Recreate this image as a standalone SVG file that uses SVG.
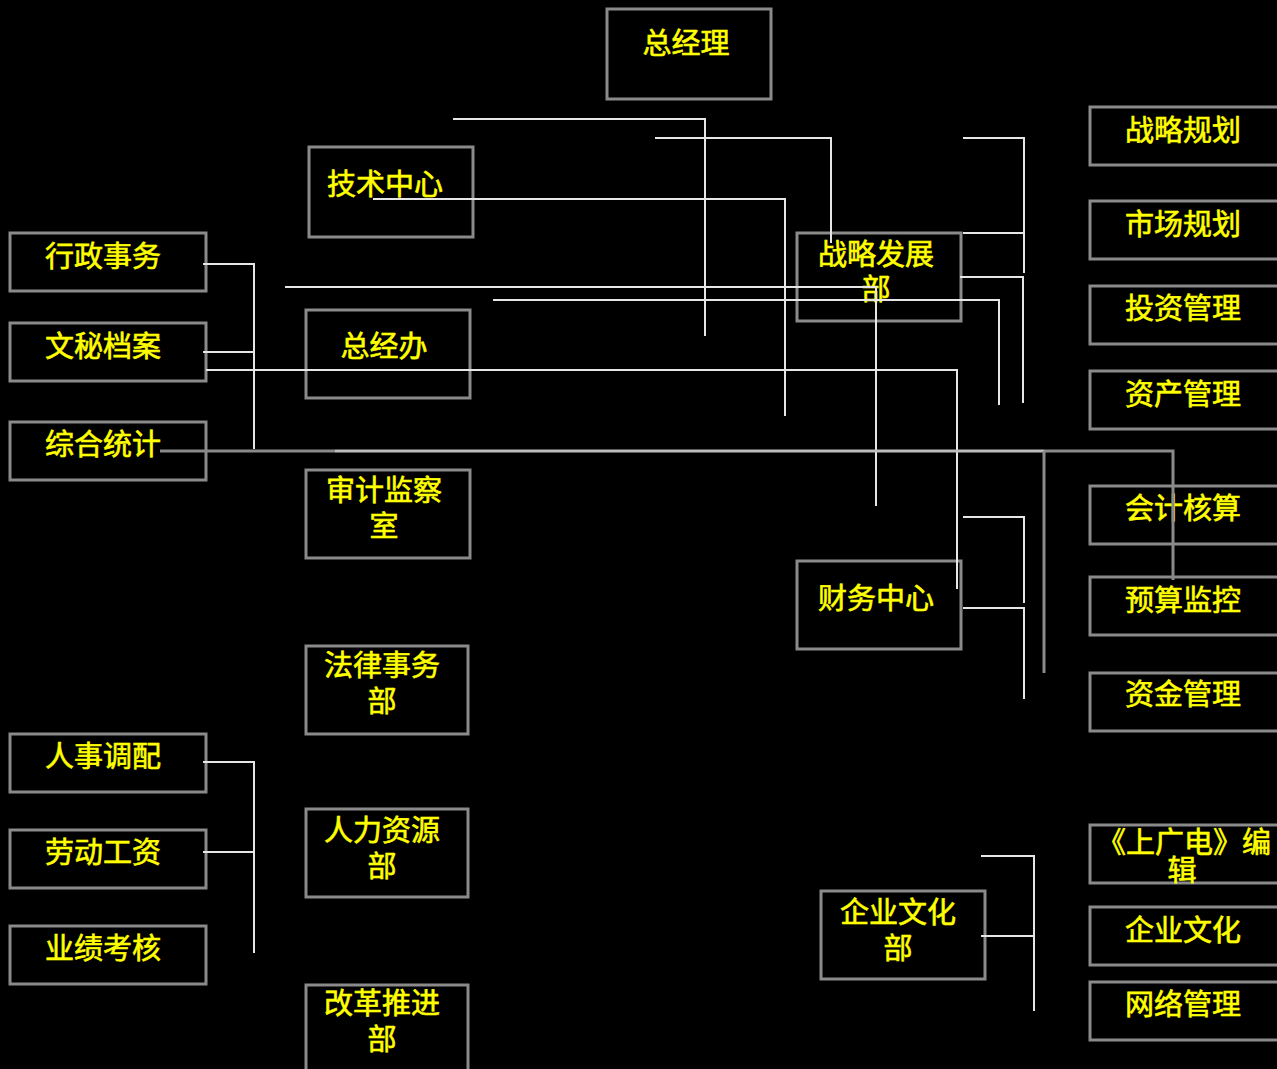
<svg xmlns="http://www.w3.org/2000/svg" width="1277" height="1069" viewBox="0 0 1277 1069">
<style>
.bx{fill:#000;stroke:#8a8a8a;stroke-width:3}
.t{font-family:"Noto Sans CJK SC","Noto Sans CJK JP",sans-serif;font-size:29px;fill:#ffff00;stroke:#ffff00;stroke-width:0.6;text-anchor:middle}
.ln{fill:none;stroke:#e6e6e6;stroke-width:2}
.lg{fill:none;stroke:#8a8a8a;stroke-width:3}
.ll{fill:none;stroke:#bdbdbd;stroke-width:3}
</style>
<rect width="1277" height="1069" fill="#000"/>
<g id="n-zjl"><rect class="bx" x="607" y="9" width="164" height="90"/><text class="t" x="686" y="54">总经理</text></g>
<g id="n-jszx"><rect class="bx" x="309" y="147" width="164" height="90"/><text class="t" x="385" y="195">技术中心</text></g>
<g id="n-zjb"><rect class="bx" x="306" y="310" width="164" height="88"/><text class="t" x="384" y="357">总经办</text></g>
<g id="n-sjjcs"><rect class="bx" x="306" y="470" width="164" height="88"/><text class="t" x="384" y="501">审计监察</text><text class="t" x="384" y="537">室</text></g>
<g id="n-flswb"><rect class="bx" x="306" y="646" width="162" height="88"/><text class="t" x="382" y="676">法律事务</text><text class="t" x="382" y="712">部</text></g>
<g id="n-rlzyb"><rect class="bx" x="306" y="809" width="162" height="88"/><text class="t" x="382" y="841">人力资源</text><text class="t" x="382" y="877">部</text></g>
<g id="n-ggtjb"><rect class="bx" x="306" y="985" width="162" height="100"/><text class="t" x="382" y="1014">改革推进</text><text class="t" x="382" y="1050">部</text></g>
<g id="n-xzsw"><rect class="bx" x="10" y="233" width="196" height="58"/><text class="t" x="103" y="267">行政事务</text></g>
<g id="n-wmda"><rect class="bx" x="10" y="323" width="196" height="58"/><text class="t" x="103" y="357">文秘档案</text></g>
<g id="n-zhtj"><rect class="bx" x="10" y="422" width="196" height="58"/><text class="t" x="103" y="455">综合统计</text></g>
<g id="n-rsdp"><rect class="bx" x="10" y="734" width="196" height="58"/><text class="t" x="103" y="767">人事调配</text></g>
<g id="n-ldgz"><rect class="bx" x="10" y="830" width="196" height="58"/><text class="t" x="103" y="863">劳动工资</text></g>
<g id="n-yjkh"><rect class="bx" x="10" y="926" width="196" height="58"/><text class="t" x="103" y="959">业绩考核</text></g>
<g id="n-zlfzb"><rect class="bx" x="797" y="233" width="164" height="88"/><text class="t" x="876" y="265">战略发展</text><text class="t" x="876" y="300">部</text></g>
<g id="n-cwzx"><rect class="bx" x="797" y="561" width="164" height="88"/><text class="t" x="876" y="609">财务中心</text></g>
<g id="n-qywhb"><rect class="bx" x="821" y="891" width="164" height="88"/><text class="t" x="898" y="923">企业文化</text><text class="t" x="898" y="959">部</text></g>
<g id="n-zlgh"><rect class="bx" x="1090" y="107" width="200" height="58"/><text class="t" x="1183" y="141">战略规划</text></g>
<g id="n-scgh"><rect class="bx" x="1090" y="201" width="200" height="58"/><text class="t" x="1183" y="235">市场规划</text></g>
<g id="n-tzgl"><rect class="bx" x="1090" y="286" width="200" height="58"/><text class="t" x="1183" y="319">投资管理</text></g>
<g id="n-zcgl"><rect class="bx" x="1090" y="371" width="200" height="58"/><text class="t" x="1183" y="405">资产管理</text></g>
<g id="n-kjhs"><rect class="bx" x="1090" y="486" width="200" height="58"/><text class="t" x="1183" y="519">会计核算</text></g>
<g id="n-ysjk"><rect class="bx" x="1090" y="577" width="200" height="58"/><text class="t" x="1183" y="611">预算监控</text></g>
<g id="n-zjgl"><rect class="bx" x="1090" y="673" width="200" height="58"/><text class="t" x="1183" y="705">资金管理</text></g>
<g id="n-sgdbj"><rect class="bx" x="1090" y="825" width="200" height="58"/><text class="t" x="1184" y="853">《上广电》编</text><text class="t" x="1182" y="881">辑</text></g>
<g id="n-qywh"><rect class="bx" x="1090" y="907" width="200" height="58"/><text class="t" x="1183" y="941">企业文化</text></g>
<g id="n-wlgl"><rect class="bx" x="1090" y="982" width="200" height="58"/><text class="t" x="1183" y="1015">网络管理</text></g>
<g id="connectors">
<polyline class="ln" points="453,119 705,119 705,336"/>
<polyline class="ln" points="655,138 831,138 831,243"/>
<polyline class="ln" points="373,199 785,199 785,416"/>
<polyline class="ln" points="285,287 876,287 876,506"/>
<polyline class="ln" points="493,300 999,300 999,405"/>
<polyline class="ln" points="206,370 957,370 957,589"/>
<line class="lg" x1="160" y1="451" x2="335" y2="451"/>
<line class="ll" x1="335" y1="451" x2="1044" y2="451"/>
<polyline class="lg" points="1044,451 1173,451 1173,580"/>
<line class="lg" x1="1044" y1="451" x2="1044" y2="673"/>
<polyline class="ln" points="203,264 254,264 254,449"/>
<line class="ln" x1="203" y1="352" x2="254" y2="352"/>
<polyline class="ln" points="963,138 1024,138 1024,273"/>
<line class="ln" x1="963" y1="233" x2="1024" y2="233"/>
<polyline class="ln" points="960,277 1023,277 1023,403"/>
<polyline class="ln" points="963,517 1024,517 1024,603"/>
<polyline class="ln" points="963,608 1024,608 1024,699"/>
<polyline class="ln" points="981,856 1034,856 1034,1011"/>
<line class="ln" x1="981" y1="936" x2="1034" y2="936"/>
<polyline class="ln" points="203,762 254,762 254,953"/>
<line class="ln" x1="203" y1="852" x2="254" y2="852"/>
</g>
</svg>
